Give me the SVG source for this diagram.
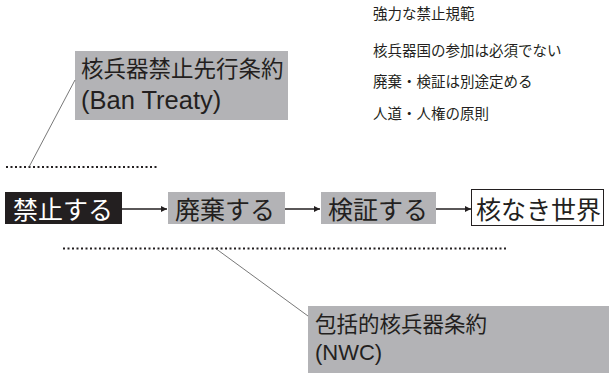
<svg xmlns="http://www.w3.org/2000/svg" width="609" height="373" viewBox="0 0 609 373">
<defs>
<style>
.t{font-family:"Liberation Sans","Noto Sans CJK JP",sans-serif;fill:#231f20}
.big{font-size:25px}
.mid{font-size:22.5px}
.sm{font-size:14.5px}
.grey{fill:#b3b3b6}
.dot{stroke:#231f20;stroke-width:2;stroke-dasharray:2 2.5;fill:none}
.lead{stroke:#555;stroke-width:0.8;fill:none}
.arr{stroke:#231f20;stroke-width:1.4;fill:none;marker-end:url(#ah)}
</style>
<marker id="ah" viewBox="0 0 10 10" refX="10" refY="5" markerWidth="4.5" markerHeight="4.5" orient="auto" markerUnits="strokeWidth">
<path d="M0,0 L10,5 L0,10 z" fill="#231f20"/>
</marker>
</defs>
<g id="notes">
<text class="t sm" x="373" y="19">強力な禁止規範</text>
<text class="t sm" x="373" y="56">核兵器国の参加は必須でない</text>
<text class="t sm" x="373" y="87">廃棄・検証は別途定める</text>
<text class="t sm" x="373" y="119">人道・人権の原則</text>
</g>
<g id="ban-treaty">
<rect class="grey" x="75" y="51" width="213" height="69"/>
<text class="t mid" x="81" y="77">核兵器禁止先行条約</text>
<text class="t" x="81" y="109" style="font-size:25.5px">(Ban Treaty)</text>
</g>
<g id="nwc">
<rect class="grey" x="308" y="306" width="301" height="67"/>
<text class="t" x="315" y="332" style="font-size:21.5px">包括的核兵器条約</text>
<text class="t" x="315" y="360" style="font-size:22px">(NWC)</text>
</g>
<g id="prohibit">
<rect x="5" y="192" width="117" height="32" fill="#231f20"/>
<text class="t big" x="13" y="219" style="fill:#fff">禁止する</text>
</g>
<g id="dismantle">
<rect class="grey" x="168" y="192" width="117" height="32"/>
<text class="t big" x="175" y="219">廃棄する</text>
</g>
<g id="verify">
<rect class="grey" x="321" y="192" width="115" height="32"/>
<text class="t big" x="328" y="219">検証する</text>
</g>
<g id="world">
<rect x="471.5" y="189.5" width="132" height="36" fill="#fff" stroke="#231f20" stroke-width="1"/>
<text class="t big" x="476" y="219">核なき世界</text>
</g>
<g id="connectors">
<line class="arr" x1="122" y1="209" x2="167" y2="209"/>
<line class="arr" x1="285" y1="209" x2="320" y2="209"/>
<line class="arr" x1="436" y1="209" x2="471" y2="209"/>
<line class="dot" x1="6" y1="167" x2="157" y2="167"/>
<line class="dot" x1="63" y1="248.5" x2="507" y2="248.5"/>
<line class="lead" x1="75" y1="80" x2="29" y2="167"/>
<line class="lead" x1="215" y1="248" x2="308" y2="316"/>
</g>
</svg>
